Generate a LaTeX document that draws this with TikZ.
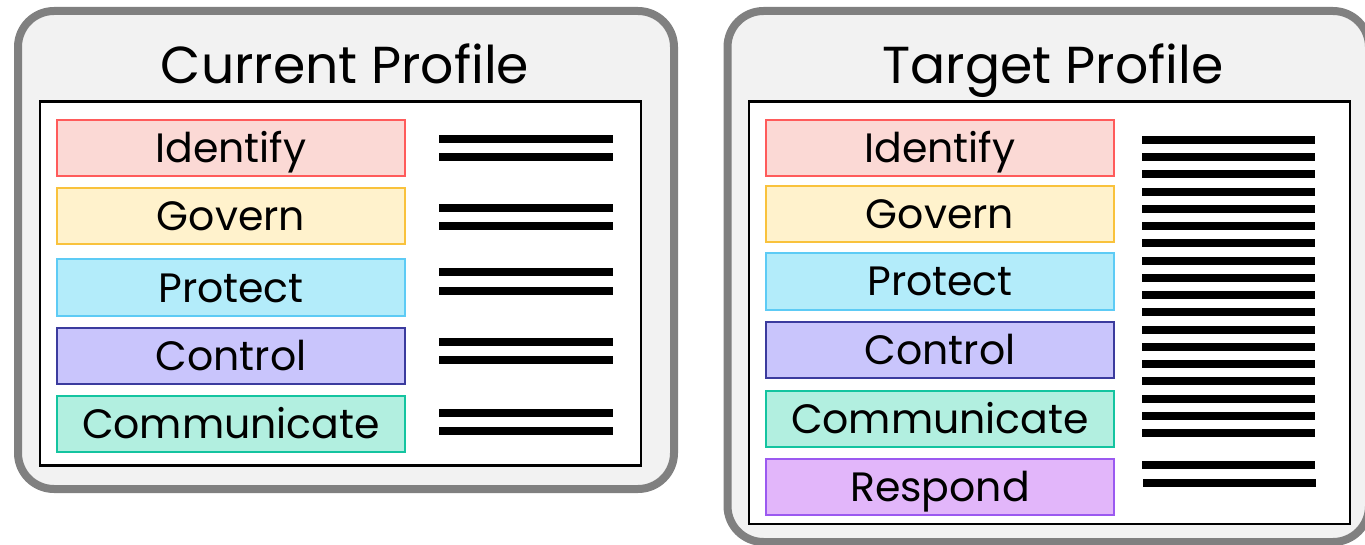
\documentclass[tikz,border=0pt]{standalone}
\usepackage{fontspec}
\setmainfont{Poppins}
\begin{document}
\begin{tikzpicture}[x=1pt,y=-1pt,
  panel/.style={draw=panelgray,line width=8pt,fill=panelbg,rounded corners=36pt},
  inner/.style={draw=black,line width=2.5pt,fill=white},
  fn/.style={rectangle,line width=2pt,minimum width=348pt,minimum height=56pt,inner sep=0pt,
    text height=29pt,text depth=0pt,font=\fontsize{41}{41}\selectfont},
  ttl/.style={anchor=base,inner sep=0pt,font=\fontsize{52}{52}\selectfont},
  bar/.style={line width=8pt,black}
]
\definecolor{panelgray}{HTML}{808080}
\definecolor{panelbg}{HTML}{F2F2F2}
\definecolor{idF}{HTML}{FBD9D5}\definecolor{idD}{HTML}{FF5B5B}
\definecolor{goF}{HTML}{FFF2CC}\definecolor{goD}{HTML}{F9C23C}
\definecolor{prF}{HTML}{B3ECFA}\definecolor{prD}{HTML}{5DCBF5}
\definecolor{coF}{HTML}{C9C5FC}\definecolor{coD}{HTML}{3B3B9E}
\definecolor{cmF}{HTML}{B2EFE0}\definecolor{cmD}{HTML}{14C4A0}
\definecolor{reF}{HTML}{E2B6FA}\definecolor{reD}{HTML}{9B59F0}
\useasboundingbox (0,0) rectangle (1365,545);
\begin{scope}
\clip (0,0) rectangle (1365,545);
% left panel
\draw[panel] (18,11) rectangle (674,489);
\draw[inner] (40,101.5) rectangle (641,465.5);
\node[ttl] (tl) at (345,84) {Current Profile};
\node[fn,fill=idF,draw=idD] (l1) at (231,148) {Identify};
\node[fn,fill=goF,draw=goD] (l2) at (231,216) {Govern};
\node[fn,fill=prF,draw=prD] (l3) at (231,287.5) {Protect};
\node[fn,fill=coF,draw=coD] (l4) at (231,356) {Control};
\node[fn,fill=cmF,draw=cmD] (l5) at (231,424) {Communicate};
\foreach \y in {138.7,157.3,207.7,226.3,272,290.7,341.7,360.3,412.7,431.3}
  \draw[bar] (439,\y) -- (612.7,\y);
% right panel
\draw[panel] (727.5,11) rectangle (1369,542);
\draw[inner] (749,101.5) rectangle (1350,524);
\node[ttl] (tr) at (1053,84) {Target Profile};
\node[fn,fill=idF,draw=idD] (r1) at (940,147.8) {Identify};
\node[fn,fill=goF,draw=goD] (r2) at (940,213.8) {Govern};
\node[fn,fill=prF,draw=prD] (r3) at (940,281.5) {Protect};
\node[fn,fill=coF,draw=coD] (r4) at (940,350) {Control};
\node[fn,fill=cmF,draw=cmD] (r5) at (940,418.5) {Communicate};
\node[fn,fill=reF,draw=reD] (r6) at (940,487) {Respond};
\foreach \i in {0,...,17}
  \draw[bar] (1142.3,140+17.24*\i) -- (1315.3,140+17.24*\i);
\draw[bar] (1142.3,464.7) -- (1315.3,464.7);
\draw[bar] (1143,483.3) -- (1316,483.3);
\end{scope}
\end{tikzpicture}
\end{document}
